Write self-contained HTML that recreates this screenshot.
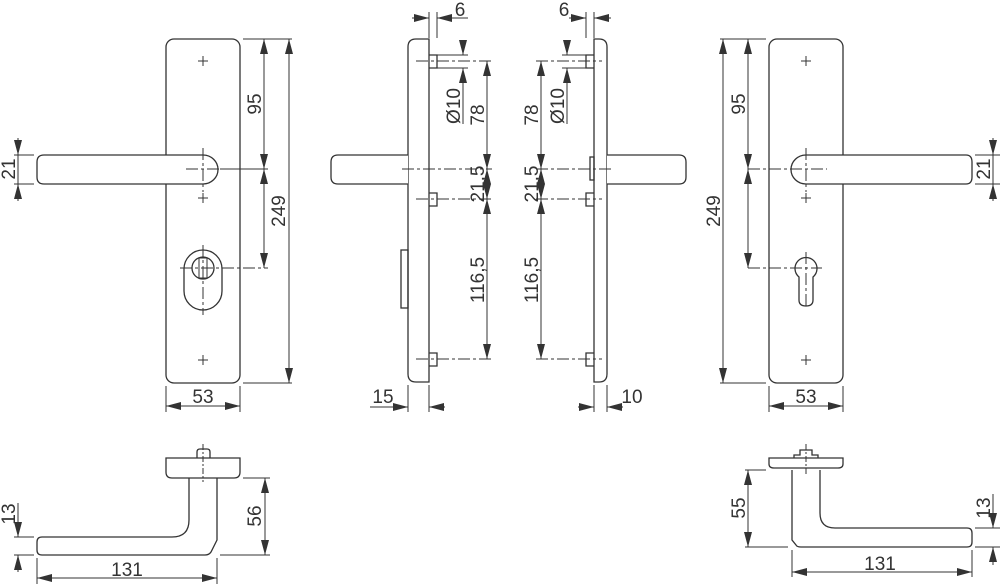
<!DOCTYPE html>
<html><head><meta charset="utf-8"><style>
html,body{margin:0;padding:0;background:#fff;}
svg{display:block;}
text{font-family:"Liberation Sans",sans-serif;font-size:19px;fill:#333;}
</style></head><body>
<svg width="1000" height="584" viewBox="0 0 1000 584" xmlns="http://www.w3.org/2000/svg">
<defs>
<marker id="a" viewBox="0 0 15 8" refX="15" refY="4" markerWidth="15" markerHeight="8" markerUnits="userSpaceOnUse" orient="auto-start-reverse"><path d="M0,0L15,4L0,8z" fill="#333"/></marker>
</defs>
<g fill="none" stroke="#333" stroke-width="1.3">
<!-- ===== LEFT FRONT ===== -->
<rect x="166" y="39" width="74" height="344" rx="8"/>
<g stroke-width="1"><path d="M198,61h10M203,56v10M198,198h10M203,193v10M198,360h10M203,355v10"/></g>
<path d="M203,155 L44,155 Q37,155 37,162 L37,177 Q37,184 44,184 L203,184 A15,14.5 0 0 0 203,155 Z" fill="#fff"/>
<path d="M203,148 V192 M186,169 H262" stroke-dasharray="12,3,3,3" stroke-width="1"/>
<rect x="184" y="250" width="38" height="60" rx="19"/>
<circle cx="203" cy="268" r="11"/>
<path d="M199,258 h8 v20 h-8z" stroke-width="1"/>
<path d="M203,245 V315 M180,268 H268" stroke-dasharray="12,3,3,3" stroke-width="1"/>
<g stroke-width="1">
<path d="M243,39 H292 M243,383 H292 M220,169 H268"/>
<path d="M264,39 V169" marker-start="url(#a)" marker-end="url(#a)"/>
<path d="M264,169 V268" marker-start="url(#a)" marker-end="url(#a)"/>
<path d="M289,39 V383" marker-start="url(#a)" marker-end="url(#a)"/>
<path d="M166,386 V412 M240,386 V412"/>
<path d="M166,406 H240" marker-start="url(#a)" marker-end="url(#a)"/>
<path d="M14,155 H34 M14,184 H34 M18,138 V155" marker-end="url(#a)"/>
<path d="M18,201 V184" marker-end="url(#a)"/>
<path d="M18,155 V184"/>
</g>
<!-- ===== LEFT SIDE ===== -->
<path d="M429,39 H416 Q408,39 408,47 V374 Q408,382 416,382 H429 Z"/>
<path d="M408,155 H338 Q331,155 331,162 V177 Q331,184 338,184 H408" fill="#fff"/>
<rect x="401" y="250" width="7" height="58"/>
<path d="M429,55 h8 v13 h-8 M429,193 h8 v13 h-8 M429,353 h8 v13 h-8"/>
<g stroke-width="1">
<path d="M416,61 H492 M416,199 H492 M416,359 H492 M402,169 H492" stroke-dasharray="12,3,3,3"/>
<path d="M437,55 H468 M437,68 H468"/>
<path d="M463,40 V55" marker-end="url(#a)"/>
<path d="M463,84 V68" marker-end="url(#a)"/>
<path d="M463,68 V124"/>
<path d="M487,61 V169" marker-start="url(#a)" marker-end="url(#a)"/>
<path d="M487,169 V199" marker-start="url(#a)" marker-end="url(#a)"/>
<path d="M487,199 V359" marker-start="url(#a)" marker-end="url(#a)"/>
<path d="M429,12 V38 M437,12 V38"/>
<path d="M412,18 H429" marker-end="url(#a)"/>
<path d="M468,18 H437" marker-end="url(#a)"/>
<path d="M408,385 V412 M429,385 V412"/>
<path d="M370,407 H408" marker-end="url(#a)"/>
<path d="M445,407 H429" marker-end="url(#a)"/>
</g>
<!-- ===== RIGHT SIDE ===== -->
<path d="M594,39 H599 Q607,39 607,47 V374 Q607,382 599,382 H594 Z"/>
<path d="M607,155 H679 Q686,155 686,162 V177 Q686,184 679,184 H607" fill="#fff"/>
<rect x="590" y="157" width="4" height="23"/>
<path d="M594,55 h-8 v13 h8 M594,193 h-8 v13 h8 M594,353 h-8 v13 h8"/>
<g stroke-width="1">
<path d="M536,61 H602 M536,199 H602 M536,359 H602 M536,169 H612" stroke-dasharray="12,3,3,3"/>
<path d="M562,55 H586 M562,68 H586"/>
<path d="M567,40 V55" marker-end="url(#a)"/>
<path d="M567,84 V68" marker-end="url(#a)"/>
<path d="M567,68 V124"/>
<path d="M541,61 V169" marker-start="url(#a)" marker-end="url(#a)"/>
<path d="M541,169 V199" marker-start="url(#a)" marker-end="url(#a)"/>
<path d="M541,199 V359" marker-start="url(#a)" marker-end="url(#a)"/>
<path d="M586,12 V38 M594,12 V38"/>
<path d="M569,18 H586" marker-end="url(#a)"/>
<path d="M611,18 H594" marker-end="url(#a)"/>
<path d="M594,385 V412 M607,385 V412"/>
<path d="M578,407 H594" marker-end="url(#a)"/>
<path d="M623,407 H607" marker-end="url(#a)"/>
</g>
<!-- ===== RIGHT FRONT ===== -->
<rect x="769" y="39" width="74" height="344" rx="8"/>
<g stroke-width="1"><path d="M801,61h10M806,56v10M801,198h10M806,193v10M801,360h10M806,355v10"/></g>
<path d="M806,155 L966,155 Q972,155 972,162 L972,177 Q972,184 966,184 L806,184 A15,14.5 0 0 1 806,155 Z" fill="#fff"/>
<path d="M806,148 V192 M748,169 H827" stroke-dasharray="12,3,3,3" stroke-width="1"/>
<path d="M799,277 A11,11 0 1 1 813,277 L813,300 Q813,306 806,306 Q799,306 799,300 Z"/>
<path d="M806,252 V308 M748,268 H822" stroke-dasharray="12,3,3,3" stroke-width="1"/>
<g stroke-width="1">
<path d="M720,39 H766 M720,383 H766"/>
<path d="M748,39 V169" marker-start="url(#a)" marker-end="url(#a)"/>
<path d="M748,169 V268" marker-start="url(#a)" marker-end="url(#a)"/>
<path d="M723,39 V383" marker-start="url(#a)" marker-end="url(#a)"/>
<path d="M769,386 V412 M843,386 V412"/>
<path d="M769,406 H843" marker-start="url(#a)" marker-end="url(#a)"/>
<path d="M975,155 H1000 M975,184 H1000 M993,138 V155" marker-end="url(#a)"/>
<path d="M993,201 V184" marker-end="url(#a)"/>
<path d="M993,155 V184"/>
</g>
<!-- ===== BOTTOM LEFT ===== -->
<path d="M166,458 H240 V472 Q240,478 234,478 H172 Q166,478 166,472 Z"/>
<path d="M197,458 V452 Q197,449 200,449 H207 Q210,449 210,452 V458"/>
<path d="M203,444 V482" stroke-dasharray="6,2,2,2" stroke-width="1"/>
<path d="M217,478 L217,540 L211,552 Q209,555 205,555 L42,555 Q37,555 37,550 L37,542 Q37,537 42,537 L172,537 Q189,537 189,520 L189,478"/>
<g stroke-width="1">
<path d="M243,478 H270 M220,555 H270"/>
<path d="M265,478 V555" marker-start="url(#a)" marker-end="url(#a)"/>
<path d="M14,537 H34 M14,555 H34 M18,503 V537" marker-end="url(#a)"/>
<path d="M18,572 V555" marker-end="url(#a)"/>
<path d="M37,558 V584 M217,558 V584"/>
<path d="M37,578 H217" marker-start="url(#a)" marker-end="url(#a)"/>
</g>
<!-- ===== BOTTOM RIGHT ===== -->
<path d="M769,458 H843 V464 Q843,468 838,468 H774 Q769,468 769,464 Z"/>
<path d="M794,458 v-3 h6 v-5 h12 v5 h6 v3"/>
<path d="M806,444 V474" stroke-dasharray="6,2,2,2" stroke-width="1"/>
<path d="M792,470 L792,540 L796,545 Q797,547 801,547 L967,547 Q972,547 972,542 L972,533 Q972,528 967,528 L835,528 Q820,528 820,513 L820,470"/>
<g stroke-width="1">
<path d="M745,470 H766 M745,547 H788"/>
<path d="M748,470 V547" marker-start="url(#a)" marker-end="url(#a)"/>
<path d="M975,528 H1000 M975,547 H1000 M993,494 V528" marker-end="url(#a)"/>
<path d="M993,565 V547" marker-end="url(#a)"/>
<path d="M792,550 V577 M972,550 V577"/>
<path d="M792,572 H972" marker-start="url(#a)" marker-end="url(#a)"/>
</g>
</g>
<!-- TEXT -->
<g text-anchor="middle">
<text transform="translate(261,104) rotate(-90)">95</text>
<text transform="translate(285,211) rotate(-90)">249</text>
<text transform="translate(15,169) rotate(-90)">21</text>
<text x="203" y="403">53</text>
<text x="460" y="16">6</text>
<text transform="translate(460,106) rotate(-90)">Ø10</text>
<text transform="translate(484,115) rotate(-90)">78</text>
<text transform="translate(484,184) rotate(-90)">21,5</text>
<text transform="translate(484,280) rotate(-90)">116,5</text>
<text x="383" y="403">15</text>
<text x="564" y="16">6</text>
<text transform="translate(564,106) rotate(-90)">Ø10</text>
<text transform="translate(538,115) rotate(-90)">78</text>
<text transform="translate(538,184) rotate(-90)">21,5</text>
<text transform="translate(538,280) rotate(-90)">116,5</text>
<text x="632" y="403">10</text>
<text transform="translate(745,104) rotate(-90)">95</text>
<text transform="translate(720,211) rotate(-90)">249</text>
<text transform="translate(990,169) rotate(-90)">21</text>
<text x="806" y="403">53</text>
<text transform="translate(15,514) rotate(-90)">13</text>
<text transform="translate(261,516) rotate(-90)">56</text>
<text x="127" y="576">131</text>
<text transform="translate(745,508) rotate(-90)">55</text>
<text transform="translate(990,508) rotate(-90)">13</text>
<text x="880" y="570">131</text>
</g>
</svg>
</body></html>
